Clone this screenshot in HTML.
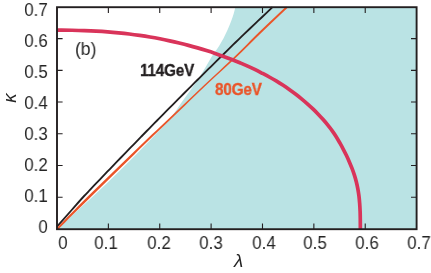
<!DOCTYPE html>
<html><head><meta charset="utf-8"><title>kappa-lambda plot (b)</title>
<style>
html,body{margin:0;padding:0;background:#fff;}
body{width:431px;height:273px;position:relative;overflow:hidden;font-family:"Liberation Sans",sans-serif;color:#242424;}
svg{position:absolute;left:0;top:0;}
.t{position:absolute;will-change:transform;font-size:17.6px;line-height:20px;height:20px;white-space:nowrap;}
.xl{top:233.4px;width:40px;text-align:center;transform:scaleX(0.96);transform-origin:50% 50%;}
.yl{left:0;width:47.8px;text-align:right;transform:scaleX(0.96);transform-origin:100% 50%;}
.b{position:absolute;will-change:transform;font-weight:bold;font-size:17px;line-height:18px;white-space:nowrap;transform:scaleX(0.9);transform-origin:0 0;-webkit-text-stroke:0.35px currentColor;letter-spacing:-0.2px;}
</style></head><body>
<svg width="431" height="273" viewBox="0 0 431 273">
<path d="M57.00,229.20 C62.50,224.20 68.00,219.20 73.50,214.20 C78.70,209.47 83.94,204.77 89.10,200.00 C96.23,193.41 103.30,186.74 110.30,180.00 C118.84,171.78 127.27,163.44 135.60,155.00 C143.73,146.76 151.87,138.52 159.70,130.00 C163.55,125.81 167.53,121.72 171.10,117.30 C175.52,111.82 179.22,105.76 183.30,100.00 C188.51,92.65 194.13,85.57 199.00,78.00 C201.53,74.06 203.92,70.03 206.30,66.00 C208.06,63.02 209.66,59.93 211.50,57.00 C213.86,53.23 216.76,49.79 219.10,46.00 C222.26,40.88 225.03,35.49 227.50,30.00 C228.83,27.04 230.07,24.04 231.20,21.00 C232.06,18.69 232.90,16.36 233.60,14.00 C234.26,11.76 234.73,9.47 235.30,7.20 L416.60,7.20 L416.60,229.20 Z" fill="#bae3e4"/>
<path d="M272.49,7.20 C270.59,9.00 268.68,10.79 266.78,12.59 C264.88,14.39 262.98,16.19 261.09,17.99 C259.19,19.79 257.30,21.58 255.40,23.38 C253.51,25.18 251.62,26.98 249.74,28.78 C247.85,30.57 245.97,32.37 244.08,34.17 C242.20,35.97 240.32,37.76 238.45,39.57 C236.59,41.36 234.76,43.16 232.91,44.96 C231.07,46.76 229.24,48.55 227.40,50.35 C225.57,52.15 223.74,53.95 221.91,55.75 C220.08,57.55 218.25,59.34 216.43,61.14 C214.60,62.94 212.78,64.74 210.96,66.54 C209.14,68.33 207.32,70.13 205.51,71.93 C203.69,73.73 201.88,75.53 200.07,77.33 C198.26,79.12 196.45,80.92 194.65,82.72 C192.84,84.52 191.04,86.31 189.24,88.11 C187.44,89.91 185.64,91.71 183.85,93.51 C182.05,95.31 180.26,97.10 178.47,98.90 C176.68,100.70 174.89,102.50 173.10,104.30 C171.32,106.09 169.53,107.89 167.75,109.69 C165.97,111.49 164.20,113.29 162.42,115.09 C160.64,116.88 158.87,118.68 157.10,120.48 C155.33,122.28 153.56,124.07 151.79,125.87 C150.03,127.67 148.26,129.47 146.50,131.27 C144.74,133.07 142.98,134.86 141.23,136.66 C139.47,138.46 137.72,140.26 135.96,142.06 C134.21,143.85 132.46,145.65 130.72,147.45 C128.97,149.25 127.23,151.05 125.48,152.85 C123.74,154.64 122.01,156.44 120.27,158.24 C118.53,160.04 116.80,161.83 115.06,163.63 C113.33,165.43 111.60,167.23 109.88,169.03 C108.15,170.83 106.43,172.62 104.70,174.42 C102.98,176.22 101.26,178.02 99.54,179.82 C97.83,181.61 96.11,183.41 94.40,185.21 C92.69,187.01 90.98,188.81 89.27,190.61 C87.56,192.40 85.84,194.19 84.15,196.00 C79.90,200.57 75.85,205.33 71.70,210.00 C66.79,215.53 61.90,221.07 57.00,226.60" fill="none" stroke="#231f20" stroke-width="1.85"/>
<path d="M56.22,228.63 L59.92,224.76 L63.63,220.90 L67.34,217.03 L71.08,213.20 L74.85,209.39 L78.63,205.58 L82.42,201.78 L86.20,197.97 L90.04,194.22 L93.89,190.48 L97.75,186.74 L101.61,183.00 L105.48,179.26 L109.35,175.52 L113.22,171.78 L117.09,168.04 L120.96,164.30 L124.84,160.56 L128.72,156.82 L132.60,153.08 L136.49,149.34 L140.38,145.59 L144.27,141.85 L148.16,138.11 L152.06,134.37 L156.00,130.63 L159.95,126.89 L163.90,123.15 L167.85,119.40 L171.80,115.66 L175.76,111.92 L179.71,108.17 L183.67,104.42 L187.64,100.68 L191.58,96.93 L195.51,93.18 L199.45,89.44 L203.42,85.69 L207.42,81.94 L211.45,78.19 L215.52,74.44 L219.59,70.65 L223.67,66.86 L227.73,63.07 L231.74,59.28 L235.67,55.49 L239.53,51.70 L243.32,47.91 L247.08,44.13 L250.84,40.35 L254.62,36.58 L258.44,32.80 L262.32,29.04 L266.24,25.28 L270.18,21.53 L274.15,17.77 L278.12,14.02 L282.10,10.26 L286.08,6.51 L287.39,7.89 L283.41,11.65 L279.45,15.42 L275.48,19.18 L271.53,22.95 L267.60,26.71 L263.69,30.48 L259.81,34.24 L255.96,37.98 L252.15,41.73 L248.36,45.48 L244.57,49.23 L240.74,52.97 L236.85,56.72 L232.87,60.46 L228.82,64.21 L224.72,67.96 L220.60,71.71 L216.49,75.45 L212.44,79.23 L208.43,83.00 L204.46,86.77 L200.52,90.55 L196.60,94.32 L192.69,98.09 L188.78,101.86 L184.84,105.63 L180.90,109.40 L176.97,113.17 L173.04,116.94 L169.12,120.71 L165.20,124.49 L161.28,128.26 L157.36,132.03 L153.44,135.80 L149.57,139.56 L145.71,143.33 L141.84,147.10 L137.98,150.87 L134.12,154.64 L130.26,158.40 L126.41,162.17 L122.56,165.93 L118.71,169.70 L114.86,173.47 L111.02,177.23 L107.18,181.00 L103.34,184.76 L99.50,188.52 L95.67,192.29 L91.84,196.05 L88.01,199.81 L84.18,203.57 L80.36,207.33 L76.53,211.09 L72.72,214.86 L68.90,218.62 L65.09,222.38 L61.28,226.14 L57.48,229.91 Z" fill="#ea5529"/>
<path d="M57.00,30.10 C61.93,30.14 66.86,30.14 71.79,30.23 C75.98,30.31 80.18,30.41 84.37,30.56 C88.32,30.70 92.27,30.86 96.21,31.08 C100.00,31.29 103.79,31.54 107.58,31.84 C111.25,32.12 114.92,32.45 118.58,32.81 C122.16,33.17 125.72,33.56 129.29,34.00 C132.77,34.42 136.25,34.89 139.72,35.39 C143.13,35.88 146.53,36.40 149.92,36.98 C153.25,37.54 156.57,38.15 159.88,38.80 C163.14,39.44 166.38,40.12 169.63,40.83 C172.81,41.52 175.99,42.25 179.15,43.01 C182.27,43.76 185.38,44.52 188.47,45.34 C191.52,46.14 194.55,46.99 197.58,47.87 C200.55,48.73 203.52,49.64 206.47,50.57 C209.37,51.49 212.27,52.45 215.15,53.43 C217.98,54.40 220.81,55.38 223.61,56.41 C226.38,57.41 229.13,58.45 231.86,59.52 C234.55,60.58 237.22,61.68 239.89,62.79 C242.50,63.88 245.11,64.96 247.69,66.11 C250.24,67.24 252.76,68.42 255.26,69.66 C257.74,70.87 260.17,72.17 262.61,73.45 C264.98,74.70 267.36,75.95 269.71,77.25 C272.02,78.52 274.32,79.79 276.58,81.14 C278.82,82.47 281.02,83.87 283.20,85.30 C285.36,86.72 287.47,88.19 289.58,89.69 C291.67,91.18 293.75,92.69 295.79,94.25 C297.83,95.82 299.85,97.43 301.84,99.07 C303.80,100.69 305.74,102.35 307.64,104.04 C309.52,105.71 311.37,107.41 313.18,109.16 C314.96,110.88 316.70,112.64 318.41,114.43 C320.10,116.20 321.75,118.01 323.36,119.84 C324.96,121.66 326.52,123.51 328.04,125.40 C329.54,127.26 331.02,129.15 332.42,131.10 C333.79,133.00 335.11,134.95 336.36,136.93 C337.58,138.89 338.70,140.90 339.83,142.91 C340.98,144.93 342.10,146.97 343.19,149.02 C344.28,151.09 345.34,153.17 346.35,155.28 C347.36,157.39 348.32,159.53 349.25,161.67 C350.18,163.84 351.09,166.01 351.93,168.21 C352.78,170.42 353.60,172.65 354.32,174.90 C355.05,177.16 355.70,179.45 356.29,181.75 C356.87,184.08 357.39,186.42 357.84,188.78 C358.29,191.17 358.65,193.59 358.96,196.00 C359.27,198.48 359.47,200.97 359.66,203.46 C359.86,206.05 360.00,208.64 360.11,211.24 C360.22,213.99 360.24,216.74 360.29,219.49 C360.33,222.73 360.33,225.96 360.35,229.20" fill="none" stroke="#d9345a" stroke-width="3.7"/>
<g fill="none" stroke="#231f20" stroke-width="1.1">
<path d="M108.37,229.20 V223.40 M108.37,7.20 V13.00 M57.00,197.19 H62.60 M416.60,197.19 H411.00"/>
<path d="M159.74,229.20 V223.40 M159.74,7.20 V13.00 M57.00,165.47 H62.60 M416.60,165.47 H411.00"/>
<path d="M211.11,229.20 V223.40 M211.11,7.20 V13.00 M57.00,133.76 H62.60 M416.60,133.76 H411.00"/>
<path d="M262.49,229.20 V223.40 M262.49,7.20 V13.00 M57.00,102.04 H62.60 M416.60,102.04 H411.00"/>
<path d="M313.86,229.20 V223.40 M313.86,7.20 V13.00 M57.00,70.33 H62.60 M416.60,70.33 H411.00"/>
<path d="M365.23,229.20 V223.40 M365.23,7.20 V13.00 M57.00,38.61 H62.60 M416.60,38.61 H411.00"/>
</g>
<rect x="57.0" y="7.2" width="359.60" height="222.00" fill="none" stroke="#231f20" stroke-width="1.9"/>
</svg>
<div class="t xl" style="left:42.5px">0</div>
<div class="t xl" style="left:86.2px">0.1</div>
<div class="t xl" style="left:139.4px">0.2</div>
<div class="t xl" style="left:190.8px">0.3</div>
<div class="t xl" style="left:243.6px">0.4</div>
<div class="t xl" style="left:294.9px">0.5</div>
<div class="t xl" style="left:346.8px">0.6</div>
<div class="t xl" style="left:399.1px">0.7</div>
<div class="t yl" style="top:-0.4px">0.7</div>
<div class="t yl" style="top:30.6px">0.6</div>
<div class="t yl" style="top:61.6px">0.5</div>
<div class="t yl" style="top:92.6px">0.4</div>
<div class="t yl" style="top:123.6px">0.3</div>
<div class="t yl" style="top:154.6px">0.2</div>
<div class="t yl" style="top:185.6px">0.1</div>
<div class="t yl" style="top:216.8px">0</div>

<div class="t" style="left:74.6px;top:38.3px;font-size:19px;line-height:22px;transform:scaleX(0.92);transform-origin:0 0;">(b)</div>
<div class="b" style="left:139.5px;top:61.8px;color:#231f20;">114GeV</div>
<div class="b" style="left:215.1px;top:80.9px;color:#ea5529;">80GeV</div>
<div class="t" style="left:234.4px;top:249.8px;font-size:18.8px;line-height:22px;font-style:italic;">&lambda;</div>
<div class="t" style="left:-0.6px;top:87.1px;width:22px;height:22px;font-size:18.6px;line-height:22px;font-style:italic;text-align:center;transform:rotate(-90deg);transform-origin:50% 50%;">&kappa;</div>
</body></html>
